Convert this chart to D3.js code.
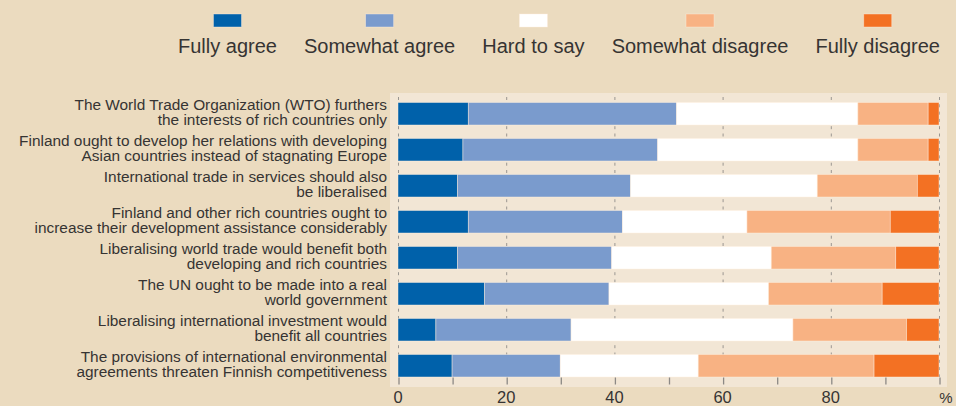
<!DOCTYPE html>
<html>
<head>
<meta charset="utf-8">
<script src="https://cdn.jsdelivr.net/npm/d3@7"></script>
<style>
  html, body { margin: 0; padding: 0; background: #ebdbbf; }
  svg { display: block; }
  text { font-family: "Liberation Sans", Arial, sans-serif; fill: #363433; }
</style>
</head>
<body>
<svg id="chart" width="956" height="406"></svg>
<script>
// ---- data ----
const categories = [
  ["The World Trade Organization (WTO) furthers", "the interests of rich countries only"],
  ["Finland ought to develop her relations with developing", "Asian countries instead of stagnating Europe"],
  ["International trade in services should also", "be liberalised"],
  ["Finland and other rich countries ought to", "increase their development assistance considerably"],
  ["Liberalising world trade would benefit both", "developing and rich countries"],
  ["The UN ought to be made into a real", "world government"],
  ["Liberalising international investment would", "benefit all countries"],
  ["The provisions of international environmental", "agreements threaten Finnish competitiveness"]
];
const seriesNames = ["Fully agree", "Somewhat agree", "Hard to say", "Somewhat disagree", "Fully disagree"];
const fullyAgree       = [13,   12,   11,   13,   11,   16,   7,    10];
const somewhatAgree    = [38.5, 36,   32,   28.5, 28.5, 23,   25,   20];
const hardToSay        = [33.5, 37,   34.5, 23,   29.5, 29.5, 41,   25.5];
const somewhatDisagree = [13,   13,   18.5, 26.5, 23,   21,   21,   32.5];
const fullyDisagree    = [2,    2,    4,    9,    8,    10.5, 6,    12];
const gridTicks = [0, 20, 40, 60, 80, 100];
const axisTicks = [0, 10, 20, 30, 40, 50, 60, 70, 80, 90, 100];
const tickLabels = ["0", "20", "40", "60", "80"];
const unitLabel = "%";

const colors = ["#0061aa", "#7a9bcd", "#ffffff", "#f8b283", "#f37123"];

// ---- build ----
const seriesValues = [fullyAgree, somewhatAgree, hardToSay, somewhatDisagree, fullyDisagree];
const rows = categories.map((c, i) => {
  const r = { id: i };
  seriesNames.forEach((s, k) => r[s] = seriesValues[k][i]);
  return r;
});
const stacked = d3.stack().keys(seriesNames)(rows);

const svg = d3.select("#chart");
svg.append("rect").attr("width", 956).attr("height", 406).attr("fill", "#ebdbbf");

const x = d3.scaleLinear().domain([0, 100]).range([398, 939]);
const y = d3.scaleBand().domain(d3.range(categories.length)).range([102.5, 377]).paddingInner(0.375).paddingOuter(0);
const color = d3.scaleOrdinal().domain(seriesNames).range(colors);

// panel
svg.append("rect").attr("x", 390).attr("y", 93).attr("width", 557).attr("height", 294).attr("fill", "#f2e6d5");

// grid lines
svg.append("g").selectAll("line").data(gridTicks).join("line")
  .attr("x1", d => x(d) + 0.5).attr("x2", d => x(d) + 0.5)
  .attr("y1", 97).attr("y2", 377)
  .attr("stroke", "#9a9691").attr("stroke-width", 1)
  .attr("stroke-dasharray", "3,4.3");

// bars
svg.append("g").selectAll("g").data(stacked).join("g")
  .attr("fill", d => color(d.key))
  .selectAll("rect").data(d => d).join("rect")
  .attr("x", d => x(d[0]))
  .attr("width", d => x(d[1]) - x(d[0]))
  .attr("y", d => y(d.data.id))
  .attr("height", y.bandwidth())
  .attr("stroke", "rgba(255,240,225,0.55)")
  .attr("stroke-width", 0.8);

// bottom axis
const axis = d3.axisBottom(x).tickValues(axisTicks).tickSize(7).tickFormat("");
const ag = svg.append("g").attr("transform", "translate(0.5,377.5)").call(axis);
ag.select(".domain").remove();
ag.selectAll(".tick line").attr("stroke", "#8c8985").attr("stroke-width", 1.3);

svg.append("g").selectAll("text").data(tickLabels).join("text")
  .attr("x", d => x(+d)).attr("y", 403)
  .attr("text-anchor", "middle").attr("font-size", 16.5)
  .text(d => d);
svg.append("text").attr("x", 946).attr("y", 403).attr("text-anchor", "middle")
  .attr("font-size", 15).text(unitLabel);

// category labels
const lg = svg.append("g");
categories.forEach((lines, i) => {
  const cy = y(i) + y.bandwidth() / 2;
  const t = lg.append("text").attr("text-anchor", "end").attr("font-size", 15.4);
  t.append("tspan").attr("x", 387).attr("y", cy - 4).text(lines[0]);
  t.append("tspan").attr("x", 387).attr("y", cy + 11).text(lines[1]);
});

// legend
const leg = svg.append("g");
const texts = seriesNames.map(s => leg.append("text").attr("font-size", 20).attr("y", 53).attr("text-anchor", "middle").text(s));
const widths = texts.map(t => t.node().getComputedTextLength());
const start = 178, end = 940;
const gap = (end - start - d3.sum(widths)) / (widths.length - 1);
let cx = start;
texts.forEach((t, i) => {
  const c = cx + widths[i] / 2;
  t.attr("x", c);
  leg.append("rect").attr("x", c - 14).attr("y", 14).attr("width", 28).attr("height", 13)
    .attr("fill", colors[i]).attr("stroke", "rgba(255,240,225,0.5)").attr("stroke-width", 0.8);
  cx += widths[i] + gap;
});
</script>
</body>
</html>
